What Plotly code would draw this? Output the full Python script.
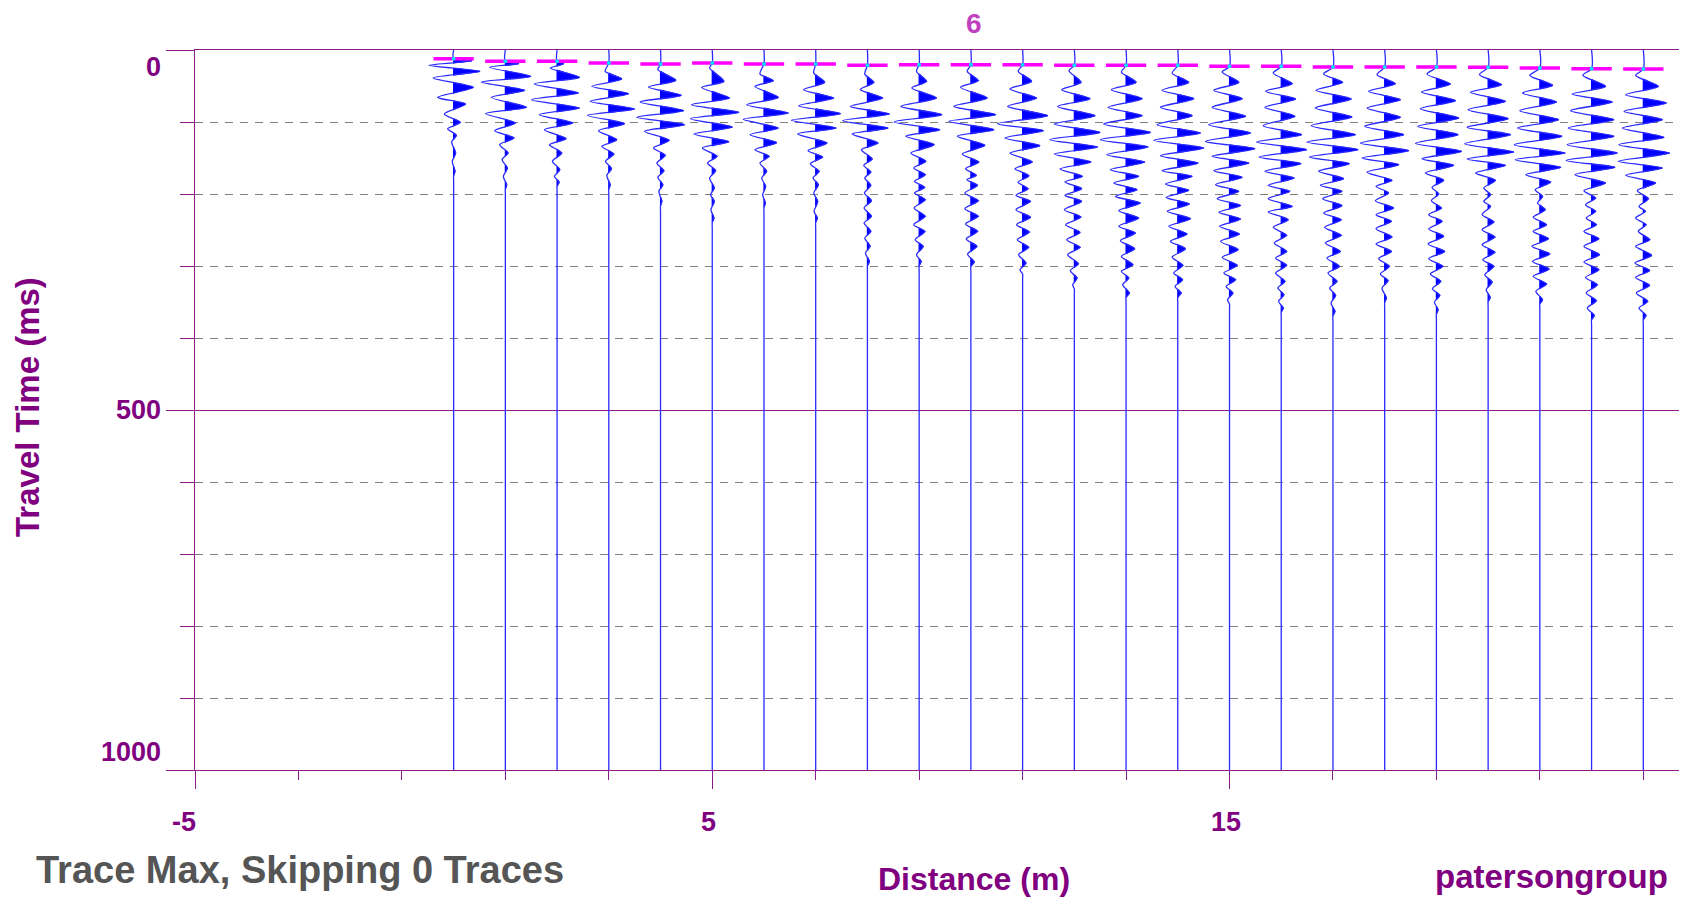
import plotly.graph_objects as go

# ---------------- data ----------------
offsets = list(range(24))  # geophone distance (m)
pick_times = [12.0, 15.7, 15.7, 18.1, 19.4, 18.1, 19.4, 19.4, 21.3, 20.4, 20.4, 20.4,
              21.3, 21.3, 21.3, 22.7, 22.7, 23.6, 23.6, 23.6, 24.1, 25.0, 25.9, 26.4]

# wiggle extrema per trace: times (ms) and amplitudes (display units, + = right)
ext_times = [
    [15, 21.3, 29.6, 38.9, 51.9, 65.8, 75.0, 88.9, 100.5, 109.3, 118.5, 127.8, 143.1, 154.6, 168.5],
    [19, 24.1, 36.6, 44.5, 56.0, 65.8, 79.6, 88.4, 101.4, 112.1, 122.2, 131.5, 143.1, 152.3, 163.9, 175.5, 187.1],
    [19, 25.0, 38.0, 47.2, 59.7, 69.0, 80.6, 89.8, 101.4, 110.7, 123.2, 131.5, 143.1, 154.6, 166.2, 175.5, 183.4],
    [29.6, 40.3, 50.5, 60.7, 71.3, 82.0, 90.8, 102.3, 112.1, 124.6, 133.8, 144.5, 154.6, 164.8, 174.1, 187.1],
    [27.3, 42.1, 51.4, 63.0, 72.2, 84.3, 93.5, 103.7, 113.0, 125.5, 136.1, 146.3, 157.0, 167.6, 176.9, 187.1, 196.3, 210.2],
    [25.0, 43.5, 51.9, 66.7, 75.9, 86.6, 95.4, 107.0, 116.7, 127.3, 136.1, 147.7, 157.0, 167.6, 177.8, 191.7, 201.0, 210.2, 221.8, 233.4],
    [33.3, 42.6, 50.5, 65.8, 75.9, 87.5, 96.3, 108.4, 117.6, 128.7, 138.4, 147.7, 157.0, 168.5, 177.8, 189.4, 201.0, 212.5],
    [32.0, 44.9, 55.1, 66.7, 77.3, 88.4, 97.7, 108.4, 116.7, 129.2, 139.8, 148.6, 157.9, 168.5, 177.8, 187.1, 198.6, 210.2, 224.1, 233.4],
    [33.3, 44.9, 55.1, 66.7, 78.3, 88.9, 98.2, 108.4, 116.7, 129.2, 138.4, 151.4, 160.2, 169.5, 177.8, 188.0, 198.6, 209.3, 219.5, 231.0,
     240.3, 251.9, 261.1, 272.7, 282.0, 293.6],
    [29.6, 43.5, 52.8, 66.7, 78.3, 89.8, 100.0, 110.7, 119.9, 131.5, 143.1, 154.6, 163.9, 173.2, 182.4, 190.8, 198.6, 207.9, 219.5, 231.0,
     242.6, 251.9, 263.5, 272.7, 284.3, 293.6],
    [29.6, 42.6, 51.9, 66.7, 78.3, 89.8, 99.1, 110.7, 119.9, 132.4, 144.5, 155.6, 164.8, 174.1, 180.1, 188.0, 198.6, 209.3, 220.4, 231.0,
     241.7, 251.9, 262.5, 272.7, 283.4, 294.5],
    [29.6, 43.5, 54.2, 66.7, 78.3, 91.2, 102.3, 112.1, 122.2, 132.9, 143.1, 155.6, 164.8, 174.6, 183.8, 192.6, 201.9, 210.2, 221.8, 232.4,
     242.6, 252.8, 263.5, 274.1, 284.3, 295.9, 305.1],
    [28.7, 44.9, 55.1, 67.6, 78.3, 91.2, 102.8, 114.4, 124.6, 134.7, 144.5, 155.6, 165.3, 175.5, 183.4, 192.6, 201.9, 210.2, 221.8, 232.0,
     242.6, 253.3, 263.5, 274.1, 284.3, 296.8, 306.5, 316.7, 326.0],
    [30.6, 44.9, 55.1, 67.6, 79.6, 91.2, 102.8, 114.4, 124.6, 134.7, 145.4, 155.6, 166.2, 175.5, 184.7, 194.0, 203.3, 212.5, 223.2, 233.4,
     244.9, 254.2, 264.8, 276.0, 286.7, 298.2, 307.4, 316.7, 326.0, 337.5],
    [32.0, 44.9, 56.0, 67.6, 79.6, 91.2, 103.7, 115.3, 125.5, 136.1, 146.8, 157.0, 167.6, 175.5, 186.1, 194.9, 204.7, 213.9, 224.1, 234.3,
     244.9, 255.6, 265.8, 276.0, 287.6, 299.1, 309.8, 319.0, 328.3, 337.5],
    [30.6, 44.9, 56.0, 67.6, 79.6, 92.1, 103.7, 115.3, 126.9, 137.1, 147.7, 157.0, 167.6, 176.9, 187.1, 196.3, 206.5, 215.8, 225.5, 234.7,
     244.9, 255.6, 265.8, 277.4, 288.0, 299.1, 309.8, 319.0, 328.3, 337.5, 346.8],
    [32.0, 46.8, 57.4, 68.1, 79.6, 92.1, 105.1, 117.6, 127.8, 138.4, 148.6, 157.9, 168.5, 177.8, 188.0, 196.3, 206.5, 217.2, 225.0, 235.7,
     246.3, 257.4, 268.1, 279.7, 289.0, 299.1, 309.8, 321.3, 330.6, 339.9, 349.1, 358.4],
    [33.3, 44.9, 56.0, 68.1, 80.6, 93.1, 105.1, 117.6, 127.8, 138.4, 148.6, 157.9, 168.5, 178.7, 188.0, 196.3, 206.5, 216.2, 226.4, 235.7,
     246.3, 257.4, 268.1, 279.7, 289.0, 300.5, 309.8, 321.3, 330.6, 340.8, 351.4, 363.0],
    [34.3, 46.8, 57.4, 69.0, 80.6, 93.5, 106.0, 117.6, 129.2, 139.8, 150.0, 159.3, 169.9, 181.0, 189.4, 198.6, 209.3, 219.5, 228.7, 238.0,
     248.2, 259.8, 269.5, 279.7, 289.9, 300.5, 311.1, 320.4, 330.6, 344.5],
    [33.3, 47.2, 58.4, 70.4, 81.5, 94.5, 106.0, 117.6, 129.6, 140.8, 150.9, 160.2, 170.9, 181.0, 190.8, 200.0, 209.3, 219.5, 228.7, 238.0,
     248.6, 258.8, 269.5, 279.7, 289.9, 300.5, 311.1, 321.3, 331.5, 340.8, 350.0, 360.7],
    [34.3, 48.2, 58.8, 71.3, 82.9, 95.4, 107.4, 117.6, 130.1, 141.7, 151.4, 160.2, 170.9, 181.0, 191.7, 201.0, 210.2, 217.2, 228.7, 238.9,
     249.6, 259.8, 270.4, 281.0, 291.2, 300.5, 312.1, 322.3, 332.9, 343.6],
    [35.2, 49.1, 59.7, 72.2, 84.3, 96.8, 108.4, 119.9, 131.5, 143.1, 152.3, 163.0, 173.2, 183.4, 194.0, 203.3, 212.5, 221.8, 232.4, 242.6,
     251.9, 262.1, 272.7, 283.4, 293.6, 304.2, 314.4, 325.0, 335.2, 346.8],
    [35.2, 50.5, 61.1, 72.2, 84.3, 96.8, 108.4, 119.9, 131.5, 143.1, 153.3, 163.0, 173.2, 184.7, 195.4, 205.6, 214.8, 224.1, 233.4, 242.6,
     251.9, 262.1, 272.7, 284.3, 294.5, 305.1, 315.8, 326.0, 337.5, 348.2, 358.4, 368.6],
    [35.2, 50.5, 62.1, 73.6, 85.2, 96.8, 108.4, 121.3, 131.5, 143.1, 154.6, 163.9, 174.1, 184.7, 195.4, 206.5, 217.2, 224.1, 233.4, 242.6,
     251.9, 263.5, 272.7, 285.2, 295.9, 306.1, 315.8, 326.9, 337.5, 349.1, 358.4, 368.6],
]
ext_amps = [
    [55, -74, 79, -61, 59, -48, 36, -28, 20, -18, 8, -6, 6, -4, 4],
    [40, -47, 76, -72, 58, -42, 63, -59, 30, -32, 26, -17, 8, -10, 6, -6, 4],
    [20, -20, 67, -68, 64, -76, 67, -53, 47, -38, 27, -23, 14, -14, 8, -8, 6],
    [-11, 39, -51, 59, -56, 77, -64, 47, -31, 24, -21, 15, -10, 8, -6, 4],
    [-8, 46, -36, 62, -61, 69, -71, 72, -48, 26, -21, 14, -11, 10, -8, 7, -5, 4],
    [-8, 35, -32, 52, -62, 80, -65, 60, -55, 50, -30, 14, -14, 10, -8, 6, -5, 6, -4, 5],
    [-12, 28, -27, 43, -52, 73, -62, 43, -42, 38, -27, 15, -12, 8, -7, 5, -4, 4],
    [-6, 27, -36, 54, -51, 74, -73, 61, -54, 34, -23, 21, -16, 10, -8, 8, -6, 6, -5, 5],
    [-8, 19, -21, 46, -51, 66, -74, 62, -46, 32, -18, 14, -11, 10, -8, 10, -9, 12, -10, 12,
     -10, 10, -8, 8, -6, 6],
    [-8, 22, -22, 52, -55, 68, -75, 62, -40, 45, -25, 20, -16, 18, -14, 16, -14, 18, -15, 18,
     -16, 17, -12, 12, -8, 6],
    [-11, 22, -31, 49, -51, 74, -66, 69, -41, 42, -26, 24, -16, 16, -12, 20, -18, 22, -18, 22,
     -16, 20, -14, 18, -10, 10],
    [-13, 27, -38, 42, -45, 75, -75, 62, -53, 52, -38, 29, -23, 19, -14, 16, -20, 24, -20, 24,
     -18, 20, -16, 18, -12, 10, -8],
    [-16, 20, -38, 47, -50, 62, -60, 77, -73, 70, -60, 50, -43, 24, -28, 22, -28, 22, -30, 20,
     -26, 17, -23, 17, -20, 12, -12, 8, -5],
    [-14, 30, -44, 48, -54, 48, -67, 73, -77, 66, -57, 56, -47, 38, -37, 33, -32, 43, -22, 38,
     -22, 28, -17, 26, -14, 20, -14, 8, -10, 10],
    [-17, 33, -47, 48, -52, 43, -62, 68, -72, 78, -52, 61, -47, 43, -37, 33, -35, 35, -32, 38,
     -27, 28, -22, 23, -17, 15, -12, 14, -8, 10],
    [-22, 28, -47, 38, -52, 48, -62, 63, -72, 76, -52, 58, -47, 38, -42, 28, -37, 33, -32, 33,
     -30, 30, -27, 26, -22, 23, -17, 18, -10, 10, -6],
    [-24, 33, -47, 43, -49, 41, -54, 61, -74, 76, -67, 59, -49, 39, -39, 26, -39, 33, -39, 21,
     -24, 16, -21, 16, -17, 16, -17, 11, -10, 8, -8, 6],
    [-28, 29, -51, 55, -53, 57, -65, 67, -78, 75, -71, 49, -43, 32, -38, 27, -31, 27, -28, 25,
     -25, 25, -23, 22, -18, 19, -15, 12, -10, 8, -6, 6],
    [-23, 32, -48, 47, -53, 47, -60, 57, -73, 72, -68, 42, -53, 22, -26, 12, -28, 27, -26, 20,
     -26, 22, -26, 20, -18, 14, -13, 10, -8, 5],
    [-28, 42, -45, 57, -48, 67, -56, 65, -63, 75, -43, 52, -33, 22, -13, 7, -15, 15, -23, 17,
     -23, 22, -25, 25, -23, 19, -18, 13, -12, 10, -6, 5],
    [-26, 40, -53, 52, -60, 60, -63, 67, -70, 77, -63, 52, -38, 22, -13, 7, -13, 7, -18, 17,
     -18, 20, -18, 20, -16, 17, -10, 12, -6, 6],
    [-30, 38, -52, 50, -60, 56, -67, 66, -77, 76, -74, 63, -42, 33, -14, 8, -7, 16, -20, 20,
     -20, 26, -24, 30, -22, 28, -20, 20, -12, 8],
    [-26, 42, -58, 62, -63, 67, -70, 67, -73, 77, -76, 70, -50, 42, -23, 12, -18, 12, -16, 14,
     -23, 22, -23, 24, -23, 22, -18, 17, -16, 14, -13, 8],
    [-23, 45, -53, 69, -58, 57, -63, 62, -73, 79, -75, 57, -53, 37, -18, 15, -13, 6, -23, 8,
     -15, 19, -23, 25, -25, 19, -23, 19, -21, 13, -13, 8],
]

y_tick_vals = [0, 500, 1000]
x_tick_vals = [-5, 5, 15]
record_end = 1000  # ms

# ---------------- styling constants ----------------
GAIN = 1 / 155.25          # amplitude units -> metres on the distance axis
PURPLE = "#800080"
AXIS_PURPLE = "#8B1A8B"
FONT = "Liberation Sans, Arial, sans-serif"

wx, wy = [], []
fx, fy = [], []
for k, off in enumerate(offsets):
    ts, amps = ext_times[k], ext_amps[k]
    p = pick_times[k]
    tail = ts[-1]
    wx += [off, off] + [off + a * GAIN for a in amps] + [off, off, off, None]
    wy += [0, p] + list(ts) + [tail + 6, tail + 14, record_end, None]
    # variable-area fill of positive lobes
    for i, a in enumerate(amps):
        if a <= 0:
            continue
        tp, ap = (ts[i - 1], amps[i - 1]) if i > 0 else (p, 0)
        tn, an = (ts[i + 1], amps[i + 1]) if i < len(ts) - 1 else (ts[i] + 6, 0)
        tz1 = tp + (ts[i] - tp) * (-ap) / (a - ap) if ap < 0 else tp
        tz2 = ts[i] + (tn - ts[i]) * a / (a - an) if an < 0 else tn
        fx += [off, off + a * GAIN, off, off, None]
        fy += [tz1, ts[i], tz2, tz1, None]

mx, my = [], []
for off, p in zip(offsets, pick_times):
    mx += [off - 0.39, off + 0.39, None]
    my += [p, p, None]

fig = go.Figure()
fig.add_trace(go.Scatter(x=fx, y=fy, mode="lines", fill="toself", fillcolor="#0000FF",
                         line=dict(color="#0000FF", width=1.2), hoverinfo="skip", showlegend=False))
fig.add_trace(go.Scatter(x=wx, y=wy, mode="lines", line=dict(color="#2A2AFF", width=1.3, shape="spline", smoothing=0.8),
                         hoverinfo="skip", showlegend=False))
fig.add_trace(go.Scatter(x=mx, y=my, mode="lines", line=dict(color="#FF00FF", width=3.5),
                         hoverinfo="skip", showlegend=False))
fig.add_trace(go.Scatter(x=offsets, y=pick_times, mode="markers",
                         marker=dict(color="#00E0FF", size=4), hoverinfo="skip", showlegend=False))

annotations = []
for i, v in enumerate(y_tick_vals):
    shift = -17 if i == 0 else (18 if i == len(y_tick_vals) - 1 else 0)
    annotations.append(dict(x=0, xref="paper", y=v, yref="y", text=str(v), showarrow=False,
                            xanchor="right", yanchor="middle", xshift=-32, yshift=shift,
                            font=dict(family=FONT, size=27, color=PURPLE, weight="bold")))
for v in x_tick_vals:
    annotations.append(dict(x=v, xref="x", y=0, yref="paper", text=str(v), showarrow=False,
                            xanchor="center", yanchor="middle", xshift=(-11 if v < 0 else -4), yshift=-52,
                            font=dict(family=FONT, size=27, color=PURPLE, weight="bold")))
annotations += [
    dict(x=0.525, xref="paper", y=1.0365, yref="paper", text="6", showarrow=False,
         xanchor="center", yanchor="middle", font=dict(family=FONT, size=28, color="#C040C0", weight="bold")),
    dict(x=0.525, xref="paper", y=-0.1515, yref="paper", text="Distance (m)", showarrow=False,
         xanchor="center", yanchor="middle", font=dict(family=FONT, size=32, color=PURPLE, weight="bold")),
    dict(x=-0.113, xref="paper", y=0.5046, yref="paper", text="Travel Time (ms)", showarrow=False,
         textangle=-90, xanchor="center", yanchor="middle",
         font=dict(family=FONT, size=33, color=PURPLE, weight="bold")),
    dict(x=-0.1085, xref="paper", y=-0.1385, yref="paper", text="Trace Max, Skipping 0 Traces", showarrow=False,
         xanchor="left", yanchor="middle", font=dict(family=FONT, size=38, color="#555555", weight="bold")),
    dict(x=0.9935, xref="paper", y=-0.1755, yref="paper", text="patersongroup", showarrow=False,
         xanchor="right", yanchor="bottom", borderpad=0,
         font=dict(family=FONT, size=33, color=PURPLE, weight="bold")),
]

fig.update_layout(
    width=1674, height=889,
    margin=dict(l=187, r=3, t=42, b=127),
    paper_bgcolor="white", plot_bgcolor="white",
    showlegend=False,
    annotations=annotations,
    xaxis=dict(range=[-5, 23.69], showgrid=False, zeroline=False, showticklabels=False,
               showline=True, linecolor=AXIS_PURPLE, linewidth=1, mirror=True,
               ticks="outside", ticklen=18, tickcolor=AXIS_PURPLE, tick0=-5, dtick=10,
               minor=dict(ticks="outside", ticklen=9, tickcolor=AXIS_PURPLE, tick0=-5, dtick=2, showgrid=False)),
    yaxis=dict(range=[record_end, 0], showgrid=True, gridcolor=AXIS_PURPLE, gridwidth=1.3,
               zeroline=False, showticklabels=False,
               showline=True, linecolor=AXIS_PURPLE, linewidth=1,
               ticks="outside", ticklen=28, tickcolor=AXIS_PURPLE, tick0=0, dtick=500,
               minor=dict(ticks="outside", ticklen=14, tickcolor=AXIS_PURPLE, dtick=100,
                          showgrid=True, gridcolor="#808080", griddash="8px,7px", gridwidth=1)),
)

fig.write_html("out.html")
